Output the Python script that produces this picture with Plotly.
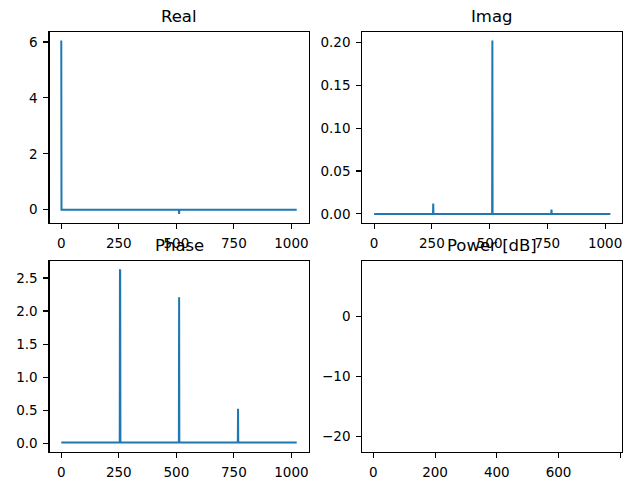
import plotly.graph_objects as go

# ---- data ----
real_x = [0, 1, 254, 255, 256, 257, 510, 511, 512, 513, 766, 767, 768, 769, 1023]
real_y = [6.05, 0.0, 0.0, 0.0, 0.02, 0.0, 0.0, 0.0, -0.15, 0.0, 0.0, 0.0, 0.01, 0.0, 0.0]

imag_x = [0, 254, 255, 256, 257, 510, 511, 512, 513, 766, 767, 768, 769, 1023]
imag_y = [0.0, 0.0, 0.0, 0.012, 0.0, 0.0, 0.0, 0.202, 0.0, 0.0, 0.0, 0.005, 0.0, 0.0]

phase_x = [0, 254, 255, 256, 257, 511, 512, 513, 767, 768, 769, 1023]
phase_y = [0.01, 0.01, 2.62, 2.63, 0.01, 0.01, 2.21, 0.01, 0.01, 0.52, 0.01, 0.01]

titles = ["Real", "Imag", "Phase", "Power [dB]"]

real_ticks = [0, 2, 4, 6]
imag_ticks = [0.0, 0.05, 0.10, 0.15, 0.20]
phase_ticks = [0.0, 0.5, 1.0, 1.5, 2.0, 2.5]
power_yticks = [-20, -10, 0]
freq_ticks = [0, 250, 500, 750, 1000]
power_xticks = [0, 200, 400, 600, 800]

# ---- layout ----
# The page body keeps its default 8px margin, so the figure is sized to fit
# exactly inside the 634x488 window without any overflow.
OFF = 8
W, H = 634 - 2 * OFF, 488 - 2 * OFF
blue = "#1f77b4"
font = dict(family="DejaVu Sans", size=13.5, color="#000000")

def px_x(a, b):
    return [(a - OFF) / W, (b - OFF) / W]

def px_y(top, bottom):
    return [1 - (bottom - OFF) / H, 1 - (top - OFF) / H]

dom = {
    1: (px_x(49.5, 308.5), px_y(32.3, 225.8)),
    2: (px_x(362.3, 622.2), px_y(32.3, 225.8)),
    3: (px_x(49.5, 308.5), px_y(264.5, 458.6)),
    4: (px_x(362.3, 622.0), px_y(264.5, 458.4)),
}

fig = go.Figure()

def add_line(x, y, i):
    fig.add_trace(go.Scatter(
        x=x, y=y, mode="lines",
        line=dict(color=blue, width=2),
        xaxis="x" if i == 1 else f"x{i}",
        yaxis="y" if i == 1 else f"y{i}",
        showlegend=False, hoverinfo="skip",
    ))

add_line(real_x, real_y, 1)
add_line(imag_x, imag_y, 2)
add_line(phase_x, phase_y, 3)
# empty power panel: trace with no points only anchors the axes
fig.add_trace(go.Scatter(x=[], y=[], xaxis="x4", yaxis="y4", showlegend=False))

def axis_common():
    return dict(
        showgrid=False, zeroline=False, showline=True, mirror=True,
        linecolor="black", linewidth=1.1, ticks="outside", ticklen=5,
        tickwidth=1.1, tickcolor="black", tickfont=font, ticklabelstandoff=3,
    )

def xr(lo, hi):
    m = (hi - lo) * 0.05
    return [lo - m, hi + m]

xranges = {1: xr(0, 1023), 2: xr(0, 1023), 3: xr(0, 1023), 4: [-35.7, 805.4]}
yranges = {
    1: xr(-0.15, 6.05),
    2: xr(0.0, 0.202),
    3: xr(0.0, 2.63),
    4: [-22.6, 9.3],
}
yticks = {1: real_ticks, 2: imag_ticks, 3: phase_ticks, 4: power_yticks}
ytext = {
    1: [str(v) for v in real_ticks],
    2: [f"{v:.2f}" for v in imag_ticks],
    3: [f"{v:.1f}" for v in phase_ticks],
    4: ["\u221220", "\u221210", "0"],
}
xticks = {1: freq_ticks, 2: freq_ticks, 3: freq_ticks, 4: power_xticks}

layout = dict(
    width=W, height=H, margin=dict(l=0, r=0, t=0, b=0), autosize=False,
    paper_bgcolor="white", plot_bgcolor="white", showlegend=False,
)
for i in range(1, 5):
    xn = "xaxis" if i == 1 else f"xaxis{i}"
    yn = "yaxis" if i == 1 else f"yaxis{i}"
    xa = axis_common()
    xa.update(domain=dom[i][0], range=xranges[i], anchor="y" if i == 1 else f"y{i}",
              tickmode="array", tickvals=xticks[i], ticktext=[str(v) for v in xticks[i]])
    ya = axis_common()
    ya.update(domain=dom[i][1], range=yranges[i], anchor="x" if i == 1 else f"x{i}",
              tickmode="array", tickvals=yticks[i], ticktext=ytext[i])
    layout[xn] = xa
    layout[yn] = ya

annotations = []
for i, t in enumerate(titles, start=1):
    xd, yd = dom[i]
    annotations.append(dict(
        text=t, xref="paper", yref="paper", x=(xd[0] + xd[1]) / 2, y=yd[1],
        xanchor="center", yanchor="bottom", yshift=4, showarrow=False,
        font=dict(family="DejaVu Sans", size=16.5, color="#000000"),
    ))
layout["annotations"] = annotations
fig.update_layout(**layout)

fig.write_html("out.html", config={"displayModeBar": False, "staticPlot": True})
